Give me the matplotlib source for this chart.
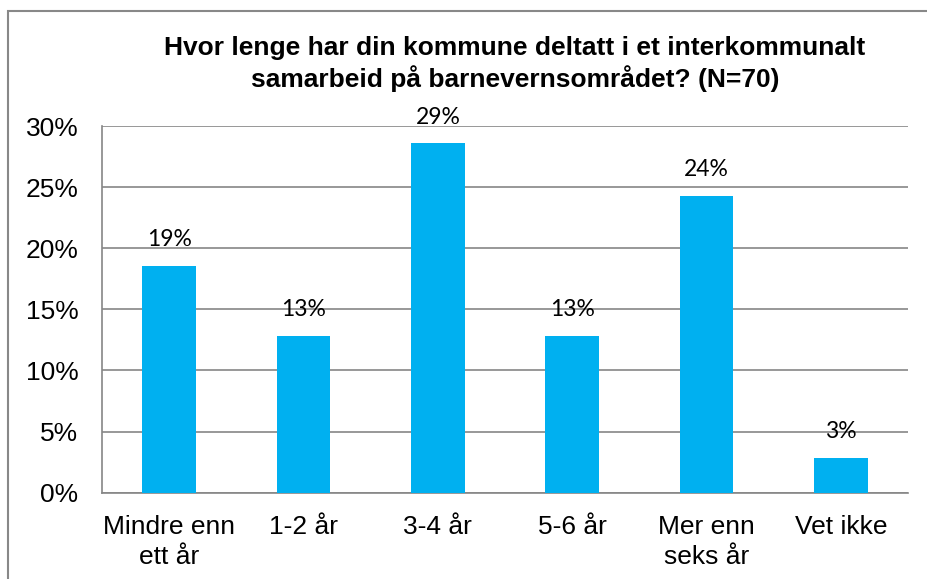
import matplotlib.pyplot as plt
from matplotlib.patches import Rectangle

# Data
categories = ['Mindre enn\nett år', '1-2 år', '3-4 år', '5-6 år', 'Mer enn\nseks år', 'Vet ikke']
values = [18.57, 12.86, 28.57, 12.86, 24.29, 2.86]
labels = ['19%', '13%', '29%', '13%', '24%', '3%']
yticks = [0, 5, 10, 15, 20, 25, 30]
title_lines = ['Hvor lenge har din kommune deltatt i et interkommunalt',
               'samarbeid på barnevernsområdet? (N=70)']

plt.rcParams['font.family'] = ['Liberation Sans', 'DejaVu Sans']

fig = plt.figure(figsize=(9.28, 5.79), dpi=100)
ax = fig.add_axes([102 / 928, 1 - 492.7 / 579, 806 / 928, 366.7 / 579])

x = range(len(categories))
ax.bar(x, values, width=0.4, color='#00B0F0', zorder=3)

for xi, v, lab in zip(x, values, labels):
    ax.annotate(lab, (xi, v), xytext=(0, 14), textcoords='offset points',
                ha='center', va='baseline', fontsize=16.5, family='Lato', zorder=4)

ax.set_xlim(-0.5, len(categories) - 0.5)
ax.set_ylim(0, 30)
ax.set_yticks(yticks)
ax.set_yticklabels([f'{t}%' for t in yticks])
ax.set_xticks(list(x))
ax.set_xticklabels(categories, linespacing=1.3)
ax.tick_params(axis='y', length=0, pad=17, labelsize=19)
ax.tick_params(axis='x', length=0, pad=16, labelsize=19)

ax.yaxis.grid(True, color='#868686', linewidth=1.2, zorder=0)
ax.set_axisbelow(True)
for s in ['top', 'right']:
    ax.spines[s].set_visible(False)
for s in ['left', 'bottom']:
    ax.spines[s].set_color('#868686')
    ax.spines[s].set_linewidth(1.2)

# title, two centred lines
fig.text(515 / 928, 1 - 55 / 579, title_lines[0], ha='center', va='baseline',
         fontsize=19, fontweight='bold')
fig.text(515 / 928, 1 - 87 / 579, title_lines[1], ha='center', va='baseline',
         fontsize=19, fontweight='bold')

# outer chart frame
fig.patches.append(Rectangle((8 / 928, -0.1), 1.2, 1 - 11 / 579 + 0.1,
                             transform=fig.transFigure, fill=False,
                             edgecolor='#888888', linewidth=1.5))

fig.savefig('out.png', dpi=100)
